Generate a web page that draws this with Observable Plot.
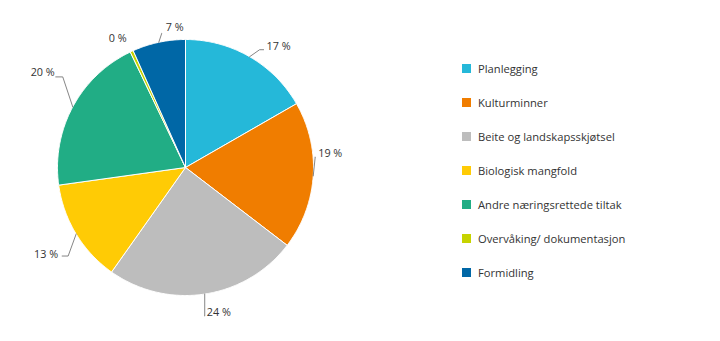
<!DOCTYPE html>
<html><head><meta charset="utf-8">
<script src="https://cdn.jsdelivr.net/npm/d3@7"></script>
<script src="https://cdn.jsdelivr.net/npm/@observablehq/plot@0.6"></script>
<style>
body{margin:0;background:#fff;}
#wrap{position:relative;width:720px;height:341px;}
#legend{position:absolute;left:462px;top:51px;font-family:"Open Sans",sans-serif;font-size:11.2px;color:#333;}
.item{display:flex;align-items:center;height:34px;white-space:nowrap;}
.sw{width:9px;height:9px;margin-right:7px;flex:none;}
</style></head><body><div id="wrap"><div id="legend"></div></div>
<script>
const categories = ["Planlegging","Kulturminner","Beite og landskapsskjøtsel","Biologisk mangfold","Andre næringsrettede tiltak","Overvåking/ dokumentasjon","Formidling"];
const values = [16.7, 18.7, 24.4, 13.0, 20.1, 0.4, 6.7];
const colors = ["#25b8d9","#f07d00","#bdbdbd","#ffcb05","#21ad85","#c6d300","#0067a6"];

// label leader layout (pixel offsets from the slice's outer mid point): [elbow dx, elbow dy, tail length]
const leaderLayout = [[10,-7,4],[2,-19,0],[0,22,0],[-8,22,-6],[-10,-30,-7],[-5,-13,0],[3,-9,0]];
const textOffset = [[3,-3],[3,-3],[2,-4],[-4,-2],[-1,-4],[0,0],[4,-6]];

const R = 128; // pixel radius, matches scale ranges below
const data = categories.map((name, i) => ({name, value: values[i]}));
const arcs = d3.pie().sort(null).value(d => d.value)(data);
const pt = (a, r) => [Math.sin(a) * r, Math.cos(a) * r];

const slicePts = [];
for (const a of arcs) {
  const n = Math.max(2, Math.ceil((a.endAngle - a.startAngle) / 0.01));
  slicePts.push({name: a.data.name, x: 0, y: 0});
  for (let k = 0; k <= n; k++) {
    const t = a.startAngle + (a.endAngle - a.startAngle) * k / n;
    const [x, y] = pt(t, 1);
    slicePts.push({name: a.data.name, x, y});
  }
  slicePts.push({name: a.data.name, x: 0, y: 0});
}

const leaders = [];
const labels = [];
arcs.forEach((a, i) => {
  const mid = (a.startAngle + a.endAngle) / 2;
  const [x0, y0] = pt(mid, 1);
  const [ex, ey, tail] = leaderLayout[i];
  const x1 = x0 + ex / R, y1 = y0 - ey / R;
  const x2 = x1 + tail / R;
  const side = (tail !== 0 ? tail : ex) >= 0 ? 1 : -1;
  if (a.data.value >= 1) {
    leaders.push({name: a.data.name, x: x0, y: y0}, {name: a.data.name, x: x1, y: y1}, {name: a.data.name, x: x2, y: y1});
  }
  const [tx, ty] = textOffset[i];
  labels.push({x: x2 + tx / R, y: y1 - ty / R, side, text: Math.round(a.data.value) + " %"});
});

const chart = Plot.plot({
  width: 720,
  height: 341,
  margin: 0,
  x: {domain: [-1, 1], range: [185 - R, 185 + R], axis: null},
  y: {domain: [-1, 1], range: [167 + R, 167 - R], axis: null},
  color: {domain: categories, range: colors},
  style: {fontFamily: "'Open Sans', sans-serif", fontSize: "10.8px", color: "#333", background: "#fff"},
  marks: [
    Plot.line(slicePts, {x: "x", y: "y", z: "name", fill: "name", stroke: "#fff", strokeWidth: 1, curve: "linear"}),
    Plot.line(leaders, {x: "x", y: "y", z: "name", stroke: "#666", strokeWidth: 0.8}),
    Plot.text(labels.filter(d => d.side > 0), {x: "x", y: "y", text: "text", textAnchor: "start", fill: "#333"}),
    Plot.text(labels.filter(d => d.side < 0), {x: "x", y: "y", text: "text", textAnchor: "end", fill: "#333"})
  ]
});
const wrap = document.getElementById("wrap");
wrap.insertBefore(chart, wrap.firstChild);

const legend = document.getElementById("legend");
categories.forEach((c, i) => {
  const item = document.createElement("div");
  item.className = "item";
  const sw = document.createElement("span");
  sw.className = "sw";
  sw.style.background = colors[i];
  const lab = document.createElement("span");
  lab.textContent = c;
  item.appendChild(sw);
  item.appendChild(lab);
  legend.appendChild(item);
});
</script>
</body></html>
